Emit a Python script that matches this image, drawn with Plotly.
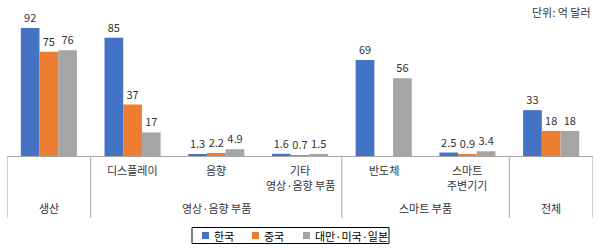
import plotly.graph_objects as go

# ---- data ----
cat_ids = ["생산", "디스플레이", "음향", "기타 영상·음향 부품", "반도체", "스마트 주변기기", "전체"]
sub_labels = ["", "디스플레이", "음향", "기타<br>영상·음향 부품", "반도체", "스마트<br>주변기기", ""]
groups = ["생산", "영상·음향 부품", "스마트 부품", "전체"]
group_sizes = [1, 3, 2, 1]
series_names = ["한국", "중국", "대만·미국·일본"]
korea = [92, 85, 1.3, 1.6, 69, 2.5, 33]
china = [75, 37, 2.2, 0.7, None, 0.9, 18]
others = [76, 17, 4.9, 1.5, 56, 3.4, 18]
colors = ["#4472C4", "#ED7D31", "#A5A5A5"]
unit_text = "단위: 억 달러"

FONT = "Noto Sans CJK KR, Noto Sans, sans-serif"
TXT = "#333333"

# plot geometry (px)
W, H = 600, 250
ml, mr, mt, mb = 7, 7, 17, 94
pw = W - ml - mr
ph = H - mt - mb

def py(px_y):
    """pixel y (from top) -> paper y"""
    return (H - mb - px_y) / ph

def px(px_x):
    """pixel x (from left) -> paper x"""
    return (px_x - ml) / pw

fig = go.Figure()
for name, vals, col in zip(series_names, [korea, china, others], colors):
    fig.add_trace(go.Bar(
        x=cat_ids, y=vals, name=name, showlegend=False,
        marker=dict(color=col, line=dict(width=0)),
        text=[("" if v is None else f"{v:g}") for v in vals],
        textposition="outside", cliponaxis=False, constraintext="none",
        textfont=dict(family=FONT, size=11, color=TXT),
    ))

# sub-category labels (one annotation per line)
line_y = [169.5, 184.5]
for cid, lab in zip(cat_ids, sub_labels):
    for k, part in enumerate([p for p in lab.split("<br>") if p]):
        fig.add_annotation(x=cid, y=py(line_y[k]), xref="x", yref="paper", text=part,
                           showarrow=False, yanchor="middle", xanchor="center",
                           borderpad=0, borderwidth=0,
                           font=dict(family=FONT, size=11, color=TXT))

# group labels & dividers
start = 0
bounds = [-0.5]
for g, n in zip(groups, group_sizes):
    center = start + (n - 1) / 2
    fig.add_annotation(x=center, y=py(208), xref="x", yref="paper", text=g,
                       showarrow=False, yanchor="middle", xanchor="center",
                       font=dict(family=FONT, size=11, color=TXT))
    start += n
    bounds.append(start - 0.5)
for b in bounds:
    fig.add_shape(type="line", xref="x", yref="paper", x0=b, x1=b,
                  y0=0, y1=py(218), line=dict(color="#A6A6A6", width=1))

# unit note
fig.add_annotation(x=1, y=py(12), xref="paper", yref="paper", text=unit_text,
                   showarrow=False, xanchor="right", yanchor="middle",
                   font=dict(family=FONT, size=11, color=TXT))

# legend (boxed, compact like the original)
fig.add_shape(type="rect", xref="paper", yref="paper",
              x0=px(192), x1=px(389), y0=py(227.5), y1=py(243.5),
              line=dict(color="#000000", width=1), fillcolor="white")
sq_x = [202, 252, 303]
for name, col, sx in zip(series_names, colors, sq_x):
    fig.add_shape(type="rect", xref="paper", yref="paper",
                  x0=px(sx), x1=px(sx + 7), y0=py(232), y1=py(239),
                  line=dict(width=0), fillcolor=col)
    fig.add_annotation(x=px(sx + 10), y=py(235.5), xref="paper", yref="paper",
                       text=name, showarrow=False, xanchor="left", yanchor="middle",
                       font=dict(family=FONT, size=11, color="#000000"))

fig.update_layout(
    width=W, height=H,
    margin=dict(l=ml, r=mr, t=mt, b=mb),
    paper_bgcolor="white", plot_bgcolor="white",
    barmode="group", bargap=0.33, bargroupgap=0,
    font=dict(family=FONT, size=11, color=TXT),
    xaxis=dict(type="category", showticklabels=False, ticks="",
               showline=True, linecolor="#A6A6A6", linewidth=1,
               showgrid=False, zeroline=False, range=[-0.5, 6.5]),
    yaxis=dict(range=[0, 100], visible=False, showgrid=False),
    showlegend=False,
)

fig.write_html("out.html")
